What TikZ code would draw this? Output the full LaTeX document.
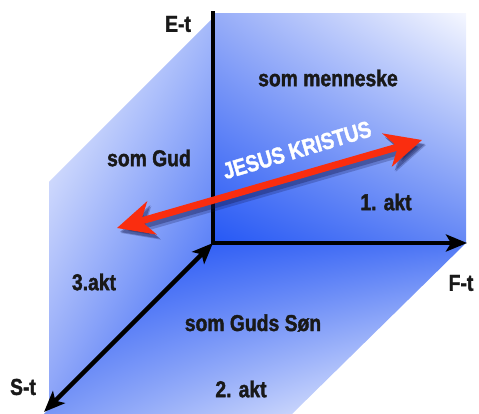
\documentclass[tikz,border=0pt]{standalone}
\usepackage{fontspec}
\newfontfamily\condfont{Liberation Sans}[FakeStretch=0.84, BoldFeatures={FakeBold=1.6}]
\usepackage{tikz}
\usetikzlibrary{arrows.meta, calc, shadings}
\definecolor{deepblue}{RGB}{38,88,245}
\definecolor{darkblue}{RGB}{30,80,245}
\definecolor{sideblue}{RGB}{165,185,250}
\definecolor{sidelow}{RGB}{135,160,248}
\definecolor{backtop}{RGB}{150,172,248}
\definecolor{backpale}{RGB}{245,247,255}
\definecolor{backlow}{RGB}{100,135,245}
\definecolor{floorright}{RGB}{80,120,245}
\definecolor{floorleft}{RGB}{120,150,247}
\definecolor{jesusred}{RGB}{250,45,15}
\definecolor{shadowblue}{RGB}{20,25,80}
\tikzset{
  % Axis styles
  axisline/.style={line width=4.5pt, draw=black},
  axistip/.style={-{Stealth[length=21pt, width=17pt, inset=5pt]}},
  bothtips/.style={{Stealth[length=21pt, width=17pt, inset=5pt]}-{Stealth[length=21pt, width=17pt, inset=5pt]}},
  axistext/.style={inner sep=0pt, font=\condfont\bfseries\fontsize{23}{26}\selectfont, text=black!90},
  facetext/.style={axistext},
  % Jesus arrow styles
  redarrow/.style={{Stealth[length=36pt, width=34pt, inset=11pt]}-{Stealth[length=36pt, width=34pt, inset=11pt]}, line width=7pt, draw=jesusred},
  arrowshadow/.style={redarrow, draw=shadowblue, opacity=#1},
  jesustext/.style={inner sep=0pt, rotate=16.5, text=white, font=\condfont\bfseries\fontsize{23}{26}\selectfont},
}
\begin{document}
\begin{tikzpicture}[x=1pt, y=1pt]
    \useasboundingbox (0,0) rectangle (479,414);

    % Corner points
    \coordinate (O) at (213,171);
    \coordinate (etop) at (213,403);
    \coordinate (fend) at (467,171);
    \coordinate (send) at (44,2);
    \coordinate (jleft) at (117,186);
    \coordinate (jright) at (422,274);

    % Faces
    \shade[upper left=white, upper right=sideblue, lower left=sidelow, lower right=deepblue]
      (213,396) -- (49,232) -- (49,0) -- (213,0) -- cycle;
    \shade[upper left=backtop, upper right=backpale, lower left=deepblue, lower right=backlow]
      (213,400) rectangle (466,171);
    \shade[upper left=darkblue, upper right=floorright, lower left=floorleft, lower right=white]
      (O) -- (466,171) -- (292,0) -- (44,0) -- cycle;

    % Axes
    \draw[axisline] (O) -- (etop);
    \draw[axisline, axistip] ($(O)+(-2,0)$) -- (fend);
    \draw[axisline, bothtips] (send) -- (O);

    % Axis labels
    \node[axistext] (elabel) at (178,390) {E-t};
    \node[axistext] (flabel) at (461,131) {F-t};
    \node[axistext] (slabel) at (23,27) {S-t};

    % Jesus arrow with shadow
    \draw[arrowshadow=0.25, line width=10pt, transform canvas={shift={(4pt,-5pt)}}] (jleft) -- (jright);
    \draw[arrowshadow=0.35, transform canvas={shift={(3pt,-4pt)}}] (jleft) -- (jright);
    \draw[redarrow] (jleft) -- (jright);
    \node[jesustext] (jk) at (297,264) {JESUS KRISTUS};

    % Face texts
    \node[facetext] (menneske) at (328,336) {som menneske};
    \node[facetext] (gud) at (149,256) {som Gud};
    \node[facetext] (akt1) at (386,212) {1. akt};
    \node[facetext] (akt3) at (94,132) {3.akt};
    \node[facetext] (son) at (253,91) {som Guds Søn};
    \node[facetext] (akt2) at (241,25) {2. akt};
\end{tikzpicture}
\end{document}
